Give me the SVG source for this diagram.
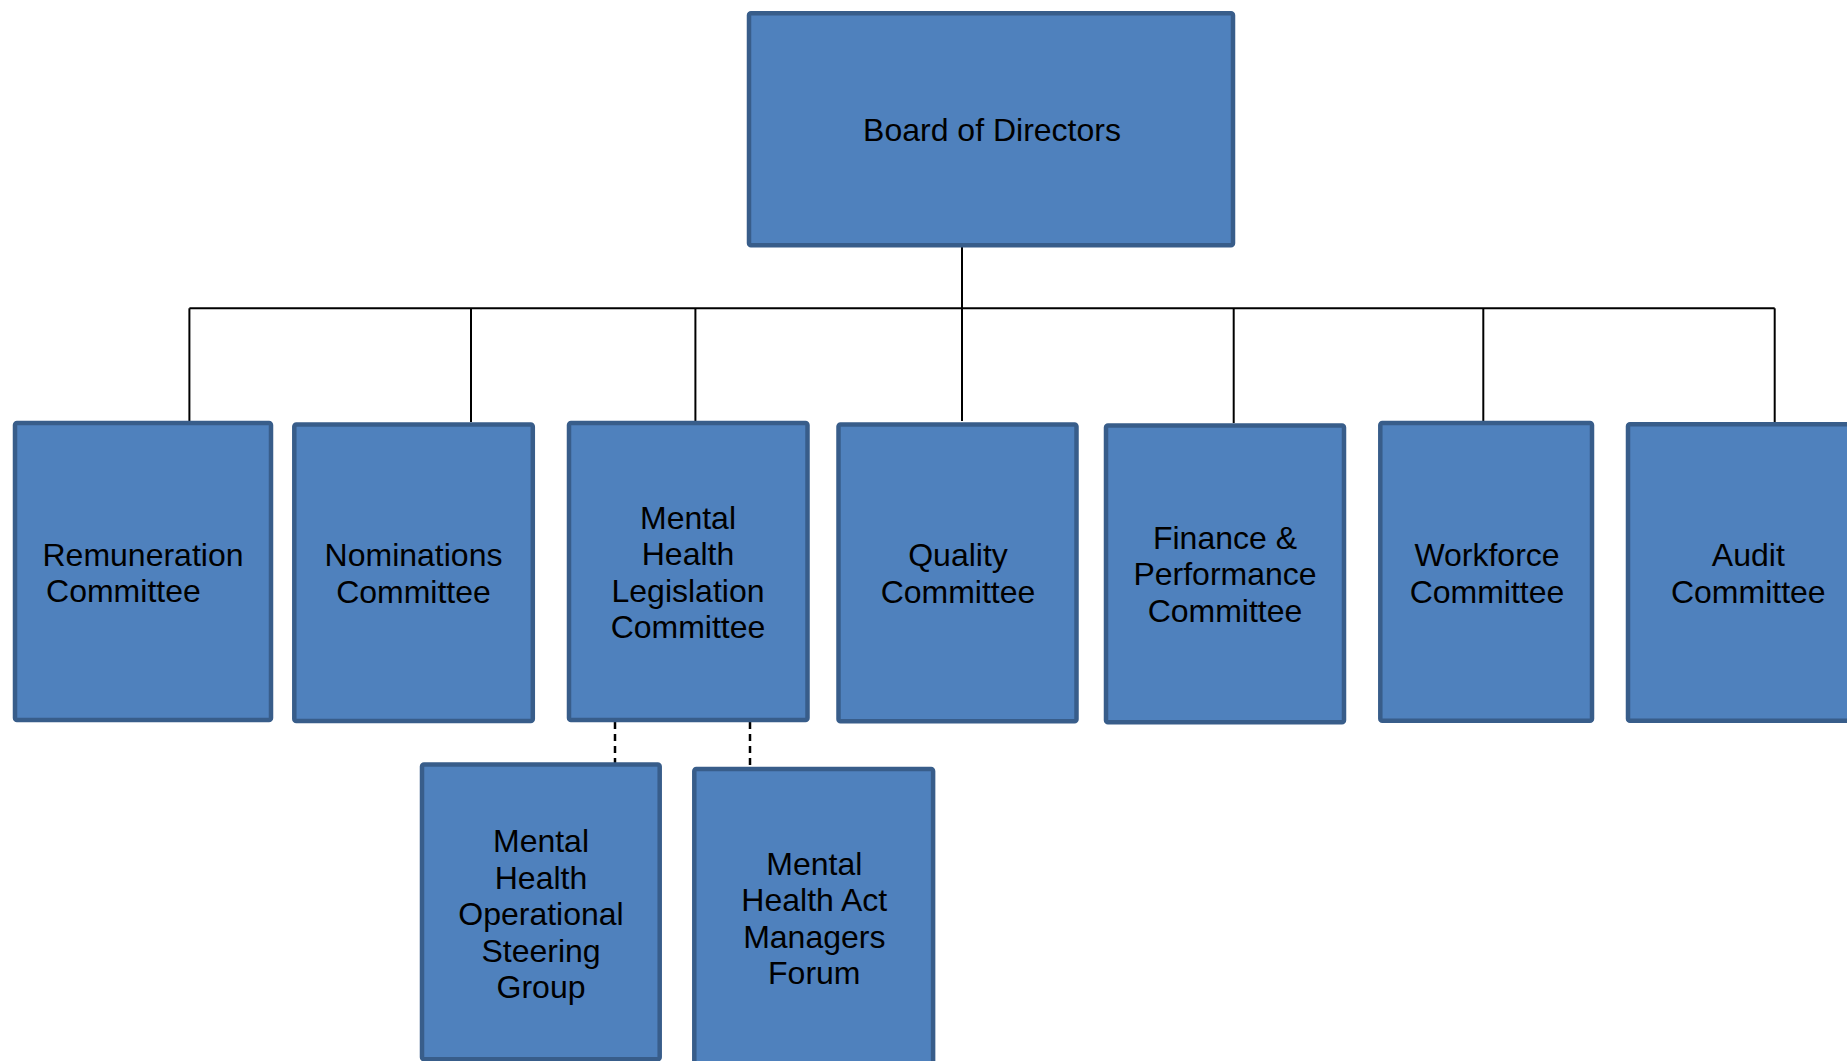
<svg xmlns="http://www.w3.org/2000/svg" width="1847" height="1061" viewBox="0 0 1847 1061">
<style>
.box{fill:#4f81bd;stroke:#385d8a;stroke-width:4.5}
.lbl{font-family:"Liberation Sans",Arial,sans-serif;font-size:32px;fill:#000;text-anchor:middle}
.ln{stroke:#000;stroke-width:2;fill:none}
.dash{stroke:#000;stroke-width:2.5;fill:none;stroke-dasharray:7 5}
</style>
<rect width="1847" height="1061" fill="#fff"/>
<g id="connectors">
<line class="ln" x1="962" y1="243" x2="962" y2="421"/>
<line class="ln" x1="189.4" y1="308.3" x2="1774.7" y2="308.3"/>
<line class="ln" x1="189.4" y1="308.3" x2="189.4" y2="421"/>
<line class="ln" x1="471" y1="308.3" x2="471" y2="422"/>
<line class="ln" x1="695.4" y1="308.3" x2="695.4" y2="421"/>
<line class="ln" x1="1233.7" y1="308.3" x2="1233.7" y2="423"/>
<line class="ln" x1="1483.3" y1="308.3" x2="1483.3" y2="421"/>
<line class="ln" x1="1774.7" y1="308.3" x2="1774.7" y2="422"/>
<line class="dash" x1="615" y1="722" x2="615" y2="763"/>
<line class="dash" x1="750" y1="722" x2="750" y2="767"/>
</g>
<g id="board">
<rect class="box" x="749" y="13.3" width="484" height="232" rx="2"/>
<text class="lbl" x="992" y="141">Board of Directors</text>
</g>
<g id="remuneration">
<rect class="box" x="15" y="423" width="256" height="297" rx="2"/>
<text class="lbl" x="143" y="566">Remuneration</text>
<text class="lbl" x="123.4" y="602">Committee</text>
</g>
<g id="nominations">
<rect class="box" x="294.3" y="424.5" width="238.5" height="296.6" rx="2"/>
<text class="lbl" x="413.5" y="566">Nominations</text>
<text class="lbl" x="413.5" y="603">Committee</text>
</g>
<g id="mhlc">
<rect class="box" x="569" y="423" width="238.5" height="297" rx="2"/>
<text class="lbl" x="688" y="528.5">Mental</text>
<text class="lbl" x="688" y="565">Health</text>
<text class="lbl" x="688" y="601.5">Legislation</text>
<text class="lbl" x="688" y="638.3">Committee</text>
</g>
<g id="quality">
<rect class="box" x="838.5" y="424.5" width="238" height="296.7" rx="2"/>
<text class="lbl" x="958" y="566">Quality</text>
<text class="lbl" x="958" y="603">Committee</text>
</g>
<g id="finance">
<rect class="box" x="1106" y="425.6" width="238" height="296.7" rx="2"/>
<text class="lbl" x="1225" y="548.5">Finance &amp;</text>
<text class="lbl" x="1225" y="585">Performance</text>
<text class="lbl" x="1225" y="621.7">Committee</text>
</g>
<g id="workforce">
<rect class="box" x="1380.3" y="423" width="211.7" height="297.7" rx="2"/>
<text class="lbl" x="1487" y="566">Workforce</text>
<text class="lbl" x="1487" y="603">Committee</text>
</g>
<g id="audit">
<rect class="box" x="1628" y="424.3" width="241" height="296.5" rx="2"/>
<text class="lbl" x="1748.3" y="566">Audit</text>
<text class="lbl" x="1748.3" y="603">Committee</text>
</g>
<g id="mhosg">
<rect class="box" x="422" y="764.6" width="237.7" height="294.6" rx="2"/>
<text class="lbl" x="541" y="852">Mental</text>
<text class="lbl" x="541" y="888.5">Health</text>
<text class="lbl" x="541" y="925">Operational</text>
<text class="lbl" x="541" y="961.7">Steering</text>
<text class="lbl" x="541" y="998">Group</text>
</g>
<g id="mhamf">
<rect class="box" x="694.3" y="769" width="238.8" height="300" rx="2"/>
<text class="lbl" x="814.3" y="874.5">Mental</text>
<text class="lbl" x="814.3" y="911">Health Act</text>
<text class="lbl" x="814.3" y="947.5">Managers</text>
<text class="lbl" x="814.3" y="984">Forum</text>
</g>
</svg>
